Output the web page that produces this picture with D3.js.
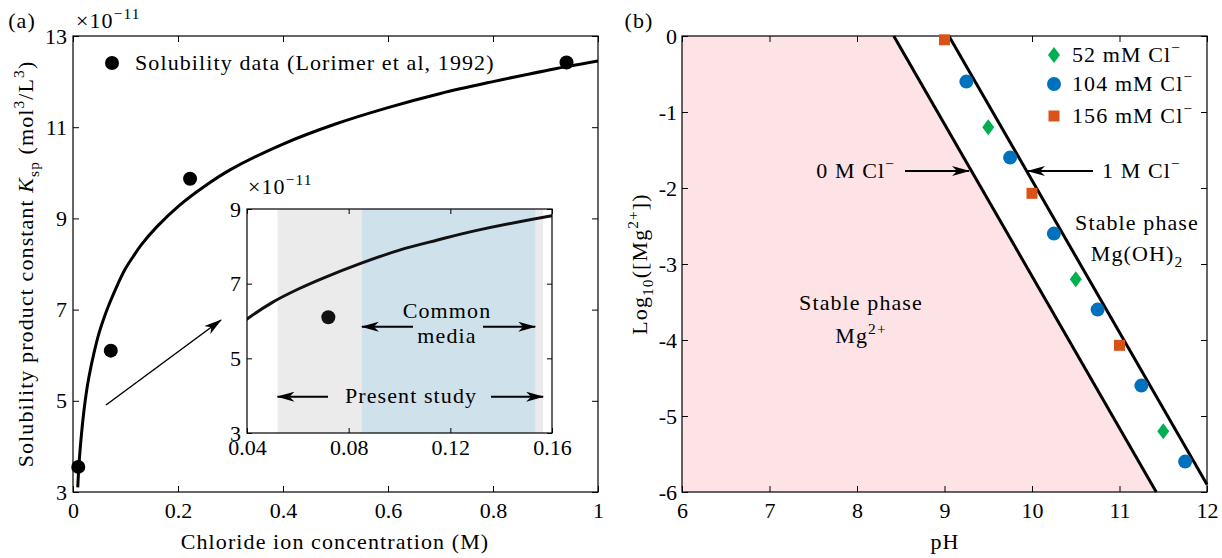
<!DOCTYPE html>
<html>
<head>
<meta charset="utf-8">
<script src="https://cdn.jsdelivr.net/npm/d3@7"></script>
<style>
body { margin: 0; background: #fff; }
svg text { font-family: "Liberation Serif", "DejaVu Serif", serif; fill: #000; }
.axis path { display: none; }
.axis line { stroke: #000; stroke-width: 1; }
.lbl { letter-spacing: 1.1px; }
</style>
</head>
<body>
<script>
// ---- panel (a) : solubility product vs chloride ----
var fitConc = [0.009, 0.012, 0.016, 0.02, 0.025, 0.03, 0.04, 0.05, 0.06, 0.07, 0.085, 0.1, 0.115, 0.13, 0.16, 0.2, 0.25, 0.3, 0.4, 0.5, 0.6, 0.7, 0.8, 0.9, 1.0];
var fitKsp  = [3.1, 3.7, 4.25, 4.7, 5.15, 5.5, 6.05, 6.5, 6.85, 7.15, 7.55, 7.9, 8.17, 8.42, 8.82, 9.26, 9.7, 10.07, 10.63, 11.07, 11.43, 11.74, 12.0, 12.24, 12.45];
var dataConc = [0.01, 0.072, 0.223, 0.94];
var dataKsp  = [3.55, 6.1, 9.87, 12.42];
var presentStudy = [0.052, 0.1565];
var commonMedia  = [0.0852, 0.1534];
var aXTicks = [0, 0.2, 0.4, 0.6, 0.8, 1];
var aYTicks = [3, 5, 7, 9, 11, 13];
var insetXTicks = [0.04, 0.08, 0.12, 0.16];
var insetYTicks = [3, 5, 7, 9];

// ---- panel (b) : Mg2+ stability vs pH ----
var bXTicks = [6, 7, 8, 9, 10, 11, 12];
var bYTicks = [0, -1, -2, -3, -4, -5, -6];
var line0pH = [8.42, 11.42], line0Mg = [0, -6];
var line1pH = [9.05, 12],    line1Mg = [0, -5.9];
var cl52pH  = [9.5, 10.5, 11.5], cl52Mg = [-1.2, -3.2, -5.2];
var cl104pH = [9.25, 9.75, 10.25, 10.75, 11.25, 11.75], cl104Mg = [-0.6, -1.6, -2.6, -3.6, -4.6, -5.6];
var cl156pH = [9, 10, 11], cl156Mg = [-0.05, -2.07, -4.07];

var FS = 22;

var svg = d3.select("body").append("svg")
    .attr("width", 1222)
    .attr("height", 558);

var defs = svg.append("defs");
defs.append("marker")
    .attr("id", "arr")
    .attr("markerUnits", "userSpaceOnUse")
    .attr("markerWidth", 18).attr("markerHeight", 10)
    .attr("refX", 17).attr("refY", 5)
    .attr("orient", "auto")
    .append("path")
    .attr("d", "M0,0 L18,5 L0,10 L5,5 Z")
    .attr("fill", "#000");

// text with sup/sub/italic parts
function rich(g, x, y, parts, size, anchor) {
    var t = g.append("text")
        .attr("class", "lbl")
        .attr("x", x).attr("y", y)
        .attr("font-size", size)
        .attr("text-anchor", anchor || "start");
    var cur = 0;
    parts.forEach(function(p) {
        if (typeof p === "string") p = [p, ""];
        var shift = p[1] === "sup" ? -size * 0.42 : p[1] === "sub" ? size * 0.25 : 0;
        var ts = t.append("tspan").text(p[0]).attr("dy", shift - cur);
        if (p[1] === "sup" || p[1] === "sub") ts.attr("font-size", size * 0.7);
        if (p[1] === "it") ts.attr("font-style", "italic");
        cur = shift;
    });
    return t;
}

function frame(g, x, y, xt, yt, tick, padX, padY, fmtX, fmtY) {
    var x0 = x.range()[0], x1 = x.range()[1], y0 = y.range()[0], y1 = y.range()[1];
    g.append("g").attr("class", "axis")
        .attr("transform", "translate(0," + y0 + ")")
        .call(d3.axisBottom(x).tickValues(xt).tickSizeInner(-tick).tickSizeOuter(0).tickPadding(padX).tickFormat(fmtX))
        .selectAll("text").attr("font-size", FS);
    g.append("g").attr("class", "axis")
        .attr("transform", "translate(" + x0 + ",0)")
        .call(d3.axisLeft(y).tickValues(yt).tickSizeInner(-tick).tickSizeOuter(0).tickPadding(padY).tickFormat(fmtY))
        .selectAll("text").attr("font-size", FS);
    g.append("g").attr("class", "axis")
        .attr("transform", "translate(0," + y1 + ")")
        .call(d3.axisTop(x).tickValues(xt).tickSizeInner(-tick).tickSizeOuter(0).tickFormat(""));
    g.append("g").attr("class", "axis")
        .attr("transform", "translate(" + x1 + ",0)")
        .call(d3.axisRight(y).tickValues(yt).tickSizeInner(-tick).tickSizeOuter(0).tickFormat(""));
    g.selectAll(".axis").attr("font-family", null);
    g.selectAll(".axis .tick text").attr("fill", "#000");
    g.append("rect")
        .attr("x", x0).attr("y", y1)
        .attr("width", x1 - x0).attr("height", y0 - y1)
        .attr("fill", "none").attr("stroke", "#000").attr("stroke-width", 1.2);
}

function arrow(g, xa, ya, xb, yb, w) {
    g.append("line")
        .attr("x1", xa).attr("y1", ya).attr("x2", xb).attr("y2", yb)
        .attr("stroke", "#000").attr("stroke-width", w || 2)
        .attr("marker-end", "url(#arr)");
}

// ================= panel (a) =================
var ga = svg.append("g");
var xa = d3.scaleLinear().domain([0, 1]).range([73, 598]);
var ya = d3.scaleLinear().domain([3, 13]).range([492, 36]);

defs.append("clipPath").attr("id", "clipA").append("rect")
    .attr("x", 73).attr("y", 36).attr("width", 525).attr("height", 456);

var fitLine = function(x, y) {
    return d3.line()
        .x(function(d) { return x(d[0]); })
        .y(function(d) { return y(d[1]); })
        .curve(d3.curveCatmullRom.alpha(0.5));
};
var fitPts = fitConc.map(function(c, i) { return [c, fitKsp[i]]; });

ga.append("path")
    .datum(fitPts)
    .attr("d", fitLine(xa, ya))
    .attr("clip-path", "url(#clipA)")
    .attr("fill", "none").attr("stroke", "#000").attr("stroke-width", 3);

ga.selectAll(".dot")
    .data(dataConc)
    .enter().append("circle")
    .attr("cx", function(d) { return xa(d); })
    .attr("cy", function(d, i) { return ya(dataKsp[i]); })
    .attr("r", 7).attr("fill", "#000");

frame(ga, xa, ya, aXTicks, aYTicks, 6, 10, 6, d3.format("~g"), d3.format("d"));

// legend
ga.append("circle").attr("cx", 112).attr("cy", 63).attr("r", 7).attr("fill", "#000");
rich(ga, 135, 70, ["Solubility data (Lorimer et al, 1992)"], FS);

rich(ga, 76, 28, ["\u00d710", ["\u221211", "sup"]], FS);
rich(ga, 22, 28, ["(a)"], FS, "middle");

rich(ga, 335, 549, ["Chloride ion concentration (M)"], FS, "middle");
rich(ga, 0, 0, ["Solubility product constant ", ["K", "it"], ["sp", "sub"], " (mol", ["3", "sup"], "/L", ["3", "sup"], ")"], FS, "middle")
    .attr("transform", "translate(33,264) rotate(-90)");

arrow(ga, 106, 405, 221, 320, 1.5);

// ---- inset ----
var gi = svg.append("g");
var xi = d3.scaleLinear().domain([0.04, 0.16]).range([247, 552]);
var yi = d3.scaleLinear().domain([3, 9]).range([433, 209]);

defs.append("clipPath").attr("id", "clipI").append("rect")
    .attr("x", 247).attr("y", 209).attr("width", 305).attr("height", 224);

gi.append("rect").attr("x", 247).attr("y", 209).attr("width", 305).attr("height", 224).attr("fill", "#fff");
gi.append("rect")
    .attr("x", xi(presentStudy[0])).attr("y", 209)
    .attr("width", xi(presentStudy[1]) - xi(presentStudy[0])).attr("height", 224)
    .attr("fill", "#ebebeb");
gi.append("rect")
    .attr("x", xi(commonMedia[0])).attr("y", 209)
    .attr("width", xi(commonMedia[1]) - xi(commonMedia[0])).attr("height", 224)
    .attr("fill", "#cfe1eb");

gi.append("path")
    .datum(fitPts)
    .attr("d", fitLine(xi, yi))
    .attr("clip-path", "url(#clipI)")
    .attr("fill", "none").attr("stroke", "#111").attr("stroke-width", 3);

gi.selectAll(".dot")
    .data(dataConc.filter(function(c) { return c > 0.04 && c < 0.16; }))
    .enter().append("circle")
    .attr("cx", function(d) { return xi(d); })
    .attr("cy", function(d) { return yi(dataKsp[dataConc.indexOf(d)]); })
    .attr("r", 7).attr("fill", "#111");

frame(gi, xi, yi, insetXTicks, insetYTicks, 5, 6, 6, d3.format(".2f"), d3.format("d"));

rich(gi, 248, 194, ["\u00d710", ["\u221211", "sup"]], FS);

var yCm = 326.7, yPs = 396.7;
rich(gi, 447, 318, ["Common"], FS, "middle");
rich(gi, 447, 343, ["media"], FS, "middle");
arrow(gi, 413, yCm, xi(commonMedia[0]), yCm);
arrow(gi, 483, yCm, xi(commonMedia[1]), yCm);
rich(gi, 411, 403, ["Present study"], FS, "middle");
arrow(gi, 328, yPs, xi(presentStudy[0]), yPs);
arrow(gi, 491, yPs, xi(presentStudy[1]), yPs);

// ================= panel (b) =================
var gb = svg.append("g");
var xb = d3.scaleLinear().domain([6, 12]).range([682, 1207]);
var yb = d3.scaleLinear().domain([-6, 0]).range([492, 36]);
var ln = d3.line().x(function(d) { return xb(d[0]); }).y(function(d) { return yb(d[1]); });

// Mg2+ stable region, left of the 0 M line
var pink = [[6, 0], [line0pH[0], line0Mg[0]], [line0pH[1], line0Mg[1]], [6, -6]];
gb.append("path")
    .datum(pink)
    .attr("d", ln(pink) + "Z")
    .attr("fill", "#fde3e5");

[[line0pH, line0Mg], [line1pH, line1Mg]].forEach(function(L) {
    gb.append("path")
        .datum(L[0].map(function(p, i) { return [p, L[1][i]]; }))
        .attr("d", ln)
        .attr("fill", "none").attr("stroke", "#000").attr("stroke-width", 3);
});

frame(gb, xb, yb, bXTicks, bYTicks, 6, 10, 5, d3.format("d"), function(d) { return d === 0 ? "0" : "-" + Math.abs(d); });

var green = "#00b050", blue = "#0072bd", orange = "#d95319";
var diamond = "M0,-8 L6,0 L0,8 L-6,0 Z";

gb.selectAll(".c52")
    .data(cl52pH).enter().append("path")
    .attr("d", diamond)
    .attr("transform", function(d, i) { return "translate(" + xb(d) + "," + yb(cl52Mg[i]) + ")"; })
    .attr("fill", green);
gb.selectAll(".c104")
    .data(cl104pH).enter().append("circle")
    .attr("cx", function(d) { return xb(d); })
    .attr("cy", function(d, i) { return yb(cl104Mg[i]); })
    .attr("r", 7).attr("fill", blue);
gb.selectAll(".c156")
    .data(cl156pH).enter().append("rect")
    .attr("x", function(d) { return xb(d) - 5.5; })
    .attr("y", function(d, i) { return yb(cl156Mg[i]) - 5.5; })
    .attr("width", 11).attr("height", 11).attr("fill", orange);

// legend
var legY = [55, 84, 116];
gb.append("path").attr("d", diamond).attr("transform", "translate(1054," + legY[0] + ")").attr("fill", green);
gb.append("circle").attr("cx", 1054).attr("cy", legY[1]).attr("r", 7).attr("fill", blue);
gb.append("rect").attr("x", 1048.5).attr("y", legY[2] - 5.5).attr("width", 11).attr("height", 11).attr("fill", orange);
rich(gb, 1072, legY[0] + 7, ["52 mM Cl", ["\u2212", "sup"]], FS);
rich(gb, 1072, legY[1] + 7, ["104 mM Cl", ["\u2212", "sup"]], FS);
rich(gb, 1072, legY[2] + 7, ["156 mM Cl", ["\u2212", "sup"]], FS);

rich(gb, 895, 178, ["0 M Cl", ["\u2212", "sup"]], FS, "end");
arrow(gb, 905, 171, 969, 171);
rich(gb, 1102, 178, ["1 M Cl", ["\u2212", "sup"]], FS);
arrow(gb, 1093, 171, 1028, 171);

rich(gb, 1137, 230, ["Stable phase"], FS, "middle");
rich(gb, 1137, 261, ["Mg(OH)", ["2", "sub"]], FS, "middle");
rich(gb, 861, 310, ["Stable phase"], FS, "middle");
rich(gb, 861, 343, ["Mg", ["2+", "sup"]], FS, "middle");

rich(gb, 639, 28, ["(b)"], FS, "middle");
rich(gb, 945, 549, ["pH"], FS, "middle");
rich(gb, 0, 0, ["Log", ["10", "sub"], "([Mg", ["2+", "sup"], "])"], FS, "middle")
    .attr("transform", "translate(647,264) rotate(-90)");
</script>
</body>
</html>
